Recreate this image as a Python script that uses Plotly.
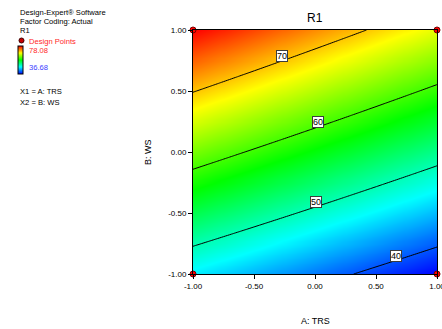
import numpy as np
import plotly.graph_objects as go

# ---- data ----
# design points (coded factors) and observed extreme responses
design_A = [-1, 1, -1, 1]
design_B = [-1, -1, 1, 1]
resp_min = 36.68
resp_max = 78.08
# fitted factorial model coefficients (coded): intercept, A, B, AB
coef_names = ["b0", "A", "B", "AB"]
coef_vals = [56.97, -5.27, 15.43, -0.41]
contour_levels = [40, 50, 60, 70]
label_A = [0.66, 0.01, 0.025, -0.27]   # A position of each contour label
tick_vals = [-1.0, -0.5, 0.0, 0.5, 1.0]
tick_text = ["-1.00", "-0.50", "0.00", "0.50", "1.00"]

b0, cA, cB, cAB = coef_vals

def model(a, b):
    return b0 + cA * a + cB * b + cAB * a * b

grid = np.linspace(-1, 1, 121)
AA, BB = np.meshgrid(grid, grid)
Z = model(AA, BB)

cscale = [[0.0, "rgb(0,0,255)"], [0.25, "rgb(0,255,255)"], [0.5, "rgb(0,255,0)"],
          [0.75, "rgb(255,255,0)"], [1.0, "rgb(255,0,0)"]]

W, H = 442, 329
L, R, T, B = 193, 5, 30, 55
pw, ph = W - L - R, H - T - B
def px(x): return (x - L) / pw
def py(y): return (H - B - y) / ph

FONT = "Arial, Liberation Sans, sans-serif"

fig = go.Figure()
fig.add_trace(go.Heatmap(
    x=grid, y=grid, z=Z, colorscale=cscale, zmin=resp_min, zmax=resp_max,
    zsmooth="best", hoverinfo="skip",
    colorbar=dict(x=px(18), xanchor="left", y=py(74), yanchor="bottom",
                  xref="paper", yref="paper",
                  len=28, lenmode="pixels", thickness=5, thicknessmode="pixels",
                  outlinewidth=1, outlinecolor="black", showticklabels=False,
                  ticks="", xpad=0, ypad=0, borderwidth=0)))
fig.add_trace(go.Contour(
    x=grid, y=grid, z=Z, showscale=False, hoverinfo="skip",
    contours=dict(coloring="lines", start=contour_levels[0], end=contour_levels[-1],
                  size=10, showlabels=False),
    colorscale=[[0, "black"], [1, "black"]], line=dict(width=1, color="black")))
fig.add_trace(go.Scatter(
    x=design_A, y=design_B, mode="markers", cliponaxis=False, hoverinfo="skip",
    marker=dict(color="red", size=6, line=dict(color="rgb(120,0,0)", width=1)),
    showlegend=False))

anns = []
for lev, a in zip(contour_levels, label_A):
    bpos = (lev - b0 - cA * a) / (cB + cAB * a)
    anns.append(dict(x=a, y=bpos, xref="x", yref="y", text=str(lev), showarrow=False,
                     xanchor="center", yanchor="middle", yshift=5,
                     bgcolor="white", bordercolor="rgb(60,60,60)", borderwidth=1, borderpad=0,
                     font=dict(family=FONT, size=9, color="black")))

def txt(x, y, s, color="black", size=7.6):
    anns.append(dict(x=px(x), y=py(y), xref="paper", yref="paper", text=s,
                     showarrow=False, xanchor="left", yanchor="middle",
                     font=dict(family=FONT, size=size, color=color)))

txt(18, 12, "Design-Expert® Software")
txt(18, 21, "Factor Coding: Actual")
txt(18, 31, "R1")
txt(27, 41, "Design Points", color="rgb(255,40,40)")
txt(27, 50, f"{resp_max:.2f}", color="rgb(255,40,40)")
txt(27, 67, f"{resp_min:.2f}", color="rgb(60,60,255)")
txt(18, 92, "X1 = A: TRS")
txt(18, 102, "X2 = B: WS")

anns.append(dict(x=0.5, y=py(18), xref="paper", yref="paper", text="R1", showarrow=False,
                 xanchor="center", yanchor="middle",
                 font=dict(family=FONT, size=12, color="black")))
anns.append(dict(x=0.5, y=py(321), xref="paper", yref="paper", text="A: TRS", showarrow=False,
                 xanchor="center", yanchor="middle",
                 font=dict(family=FONT, size=9, color="black")))
anns.append(dict(x=px(148), y=py(152), xref="paper", yref="paper", text="B: WS", showarrow=False,
                 xanchor="center", yanchor="middle",
                 textangle=-90, font=dict(family=FONT, size=9, color="black")))

fig.add_shape(type="circle", xref="paper", yref="paper",
              x0=px(19), x1=px(24), y0=py(38), y1=py(43),
              fillcolor="rgb(200,0,0)", line=dict(color="rgb(60,0,0)", width=1))

axcommon = dict(range=[-1, 1], tickvals=tick_vals, ticktext=tick_text, ticks="outside",
                ticklen=4, tickcolor="black", showline=True, mirror=True, linecolor="black",
                linewidth=1, showgrid=False, zeroline=False, automargin=False,
                ticklabeloverflow="allow",
                tickfont=dict(family=FONT, size=8, color="black"))
fig.update_layout(
    width=W, height=H, margin=dict(l=L, r=R, t=T, b=B, autoexpand=False),
    paper_bgcolor="white", plot_bgcolor="white", showlegend=False,
    xaxis=dict(**axcommon), yaxis=dict(**axcommon),
    annotations=anns)

fig.write_html("out.html", config={"displayModeBar": False},
               post_script="document.body.style.margin='0';document.body.style.overflow='hidden';")
